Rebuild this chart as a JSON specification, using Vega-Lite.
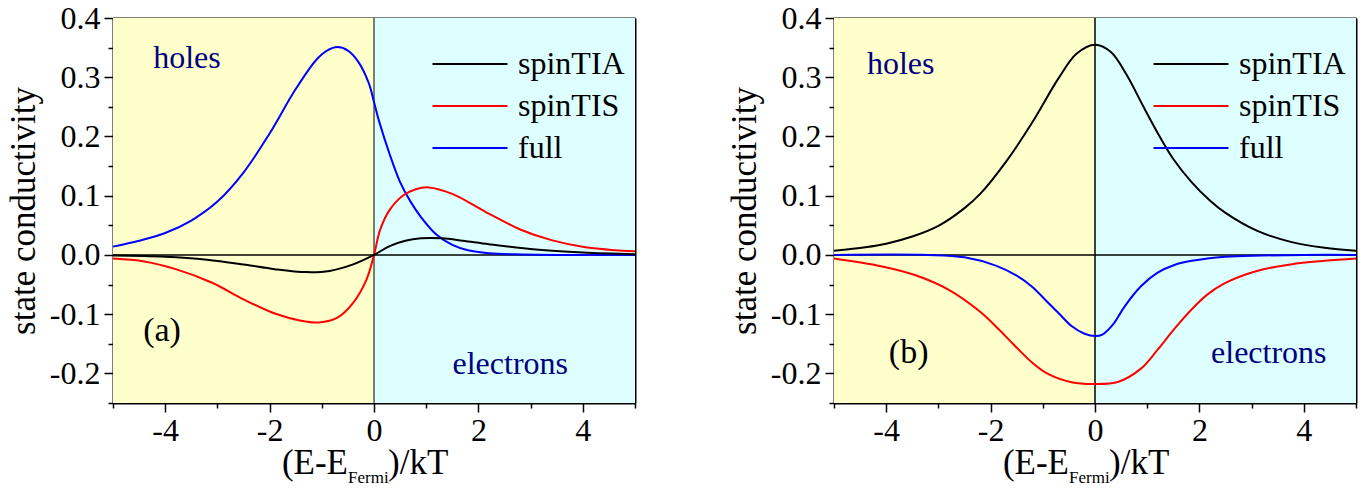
{
  "$schema": "https://vega.github.io/schema/vega-lite/v6.json",
  "background": "white",
  "padding": {"left": 6, "top": 2, "right": 5, "bottom": 5},
  "spacing": 88,
  "config": {
    "font": "Liberation Serif, Times New Roman, serif",
    "view": {"stroke": null},
    "text": {"font": "Liberation Serif, Times New Roman, serif"},
    "legend": {"labelFont": "Liberation Serif, Times New Roman, serif"},
    "axis": {"grid": false, "labelFont": "Liberation Serif, Times New Roman, serif", "titleFont": "Liberation Serif, Times New Roman, serif", "labelColor": "black", "titleColor": "black", "domainColor": "black", "tickColor": "black", "labelFontWeight": "normal", "titleFontWeight": "normal", "zindex": 1}
  },
  "datasets": {
    "regions": [
      {"region": "holes", "x0": -5, "x1": 0},
      {"region": "electrons", "x0": 0, "x1": 5}
    ],
    "curves": [
      {"panel": "a", "series": "full", "x": -5, "y": 0.014},
      {"panel": "a", "series": "full", "x": -4.5, "y": 0.024},
      {"panel": "a", "series": "full", "x": -4, "y": 0.037},
      {"panel": "a", "series": "full", "x": -3.5, "y": 0.058},
      {"panel": "a", "series": "full", "x": -3, "y": 0.09},
      {"panel": "a", "series": "full", "x": -2.5, "y": 0.139},
      {"panel": "a", "series": "full", "x": -2, "y": 0.205},
      {"panel": "a", "series": "full", "x": -1.5, "y": 0.28},
      {"panel": "a", "series": "full", "x": -1.1, "y": 0.33},
      {"panel": "a", "series": "full", "x": -0.9, "y": 0.345},
      {"panel": "a", "series": "full", "x": -0.7, "y": 0.351},
      {"panel": "a", "series": "full", "x": -0.5, "y": 0.345},
      {"panel": "a", "series": "full", "x": -0.3, "y": 0.326},
      {"panel": "a", "series": "full", "x": -0.1, "y": 0.29},
      {"panel": "a", "series": "full", "x": 0, "y": 0.258},
      {"panel": "a", "series": "full", "x": 0.1, "y": 0.225},
      {"panel": "a", "series": "full", "x": 0.3, "y": 0.17},
      {"panel": "a", "series": "full", "x": 0.5, "y": 0.123},
      {"panel": "a", "series": "full", "x": 0.7, "y": 0.09},
      {"panel": "a", "series": "full", "x": 0.9, "y": 0.064},
      {"panel": "a", "series": "full", "x": 1.2, "y": 0.034},
      {"panel": "a", "series": "full", "x": 1.5, "y": 0.017},
      {"panel": "a", "series": "full", "x": 1.8, "y": 0.008},
      {"panel": "a", "series": "full", "x": 2.2, "y": 0.003},
      {"panel": "a", "series": "full", "x": 2.7, "y": 0.001},
      {"panel": "a", "series": "full", "x": 3.5, "y": 0},
      {"panel": "a", "series": "full", "x": 5, "y": 0},
      {"panel": "a", "series": "spinTIS", "x": -5, "y": -0.006},
      {"panel": "a", "series": "spinTIS", "x": -4.4, "y": -0.011},
      {"panel": "a", "series": "spinTIS", "x": -3.8, "y": -0.024},
      {"panel": "a", "series": "spinTIS", "x": -3.1, "y": -0.047},
      {"panel": "a", "series": "spinTIS", "x": -2.5, "y": -0.075},
      {"panel": "a", "series": "spinTIS", "x": -1.9, "y": -0.099},
      {"panel": "a", "series": "spinTIS", "x": -1.4, "y": -0.111},
      {"panel": "a", "series": "spinTIS", "x": -1.05, "y": -0.114},
      {"panel": "a", "series": "spinTIS", "x": -0.7, "y": -0.106},
      {"panel": "a", "series": "spinTIS", "x": -0.4, "y": -0.081},
      {"panel": "a", "series": "spinTIS", "x": -0.15, "y": -0.043},
      {"panel": "a", "series": "spinTIS", "x": 0, "y": 0},
      {"panel": "a", "series": "spinTIS", "x": 0.12, "y": 0.043},
      {"panel": "a", "series": "spinTIS", "x": 0.3, "y": 0.076},
      {"panel": "a", "series": "spinTIS", "x": 0.55, "y": 0.1},
      {"panel": "a", "series": "spinTIS", "x": 0.8, "y": 0.111},
      {"panel": "a", "series": "spinTIS", "x": 1.05, "y": 0.114},
      {"panel": "a", "series": "spinTIS", "x": 1.5, "y": 0.103},
      {"panel": "a", "series": "spinTIS", "x": 2.15, "y": 0.072},
      {"panel": "a", "series": "spinTIS", "x": 2.8, "y": 0.043},
      {"panel": "a", "series": "spinTIS", "x": 3.4, "y": 0.025},
      {"panel": "a", "series": "spinTIS", "x": 4.05, "y": 0.013},
      {"panel": "a", "series": "spinTIS", "x": 5, "y": 0.006},
      {"panel": "a", "series": "spinTIA", "x": -5, "y": -0.001},
      {"panel": "a", "series": "spinTIA", "x": -4, "y": -0.003},
      {"panel": "a", "series": "spinTIA", "x": -3.2, "y": -0.008},
      {"panel": "a", "series": "spinTIA", "x": -2.5, "y": -0.016},
      {"panel": "a", "series": "spinTIA", "x": -1.9, "y": -0.024},
      {"panel": "a", "series": "spinTIA", "x": -1.3, "y": -0.029},
      {"panel": "a", "series": "spinTIA", "x": -0.85, "y": -0.027},
      {"panel": "a", "series": "spinTIA", "x": -0.4, "y": -0.016},
      {"panel": "a", "series": "spinTIA", "x": 0, "y": 0},
      {"panel": "a", "series": "spinTIA", "x": 0.3, "y": 0.015},
      {"panel": "a", "series": "spinTIA", "x": 0.6, "y": 0.024},
      {"panel": "a", "series": "spinTIA", "x": 0.9, "y": 0.028},
      {"panel": "a", "series": "spinTIA", "x": 1.3, "y": 0.028},
      {"panel": "a", "series": "spinTIA", "x": 1.7, "y": 0.024},
      {"panel": "a", "series": "spinTIA", "x": 2.2, "y": 0.018},
      {"panel": "a", "series": "spinTIA", "x": 3.1, "y": 0.009},
      {"panel": "a", "series": "spinTIA", "x": 4, "y": 0.004},
      {"panel": "a", "series": "spinTIA", "x": 5, "y": 0.001},
      {"panel": "b", "series": "spinTIA", "x": -5, "y": 0.007},
      {"panel": "b", "series": "spinTIA", "x": -4.4, "y": 0.013},
      {"panel": "b", "series": "spinTIA", "x": -4, "y": 0.019},
      {"panel": "b", "series": "spinTIA", "x": -3.5, "y": 0.031},
      {"panel": "b", "series": "spinTIA", "x": -3, "y": 0.049},
      {"panel": "b", "series": "spinTIA", "x": -2.5, "y": 0.079},
      {"panel": "b", "series": "spinTIA", "x": -2.2, "y": 0.103},
      {"panel": "b", "series": "spinTIA", "x": -1.7, "y": 0.158},
      {"panel": "b", "series": "spinTIA", "x": -1.2, "y": 0.224},
      {"panel": "b", "series": "spinTIA", "x": -0.7, "y": 0.298},
      {"panel": "b", "series": "spinTIA", "x": -0.35, "y": 0.34},
      {"panel": "b", "series": "spinTIA", "x": 0, "y": 0.355},
      {"panel": "b", "series": "spinTIA", "x": 0.3, "y": 0.343},
      {"panel": "b", "series": "spinTIA", "x": 0.6, "y": 0.305},
      {"panel": "b", "series": "spinTIA", "x": 0.9, "y": 0.255},
      {"panel": "b", "series": "spinTIA", "x": 1.2, "y": 0.206},
      {"panel": "b", "series": "spinTIA", "x": 1.5, "y": 0.162},
      {"panel": "b", "series": "spinTIA", "x": 1.85, "y": 0.123},
      {"panel": "b", "series": "spinTIA", "x": 2.2, "y": 0.092},
      {"panel": "b", "series": "spinTIA", "x": 2.5, "y": 0.071},
      {"panel": "b", "series": "spinTIA", "x": 3.1, "y": 0.041},
      {"panel": "b", "series": "spinTIA", "x": 3.75, "y": 0.022},
      {"panel": "b", "series": "spinTIA", "x": 4.4, "y": 0.012},
      {"panel": "b", "series": "spinTIA", "x": 5, "y": 0.007},
      {"panel": "b", "series": "full", "x": -5, "y": 0},
      {"panel": "b", "series": "full", "x": -3.2, "y": 0},
      {"panel": "b", "series": "full", "x": -2.5, "y": -0.004},
      {"panel": "b", "series": "full", "x": -1.9, "y": -0.018},
      {"panel": "b", "series": "full", "x": -1.5, "y": -0.035},
      {"panel": "b", "series": "full", "x": -1.2, "y": -0.054},
      {"panel": "b", "series": "full", "x": -0.95, "y": -0.076},
      {"panel": "b", "series": "full", "x": -0.7, "y": -0.098},
      {"panel": "b", "series": "full", "x": -0.45, "y": -0.12},
      {"panel": "b", "series": "full", "x": -0.2, "y": -0.133},
      {"panel": "b", "series": "full", "x": 0, "y": -0.137},
      {"panel": "b", "series": "full", "x": 0.15, "y": -0.134},
      {"panel": "b", "series": "full", "x": 0.35, "y": -0.117},
      {"panel": "b", "series": "full", "x": 0.56, "y": -0.088},
      {"panel": "b", "series": "full", "x": 0.88, "y": -0.053},
      {"panel": "b", "series": "full", "x": 1.2, "y": -0.03},
      {"panel": "b", "series": "full", "x": 1.52, "y": -0.017},
      {"panel": "b", "series": "full", "x": 1.85, "y": -0.01},
      {"panel": "b", "series": "full", "x": 2.5, "y": -0.003},
      {"panel": "b", "series": "full", "x": 3.2, "y": -0.001},
      {"panel": "b", "series": "full", "x": 4, "y": 0},
      {"panel": "b", "series": "full", "x": 5, "y": 0},
      {"panel": "b", "series": "spinTIS", "x": -5, "y": -0.006},
      {"panel": "b", "series": "spinTIS", "x": -4.1, "y": -0.019},
      {"panel": "b", "series": "spinTIS", "x": -3.45, "y": -0.034},
      {"panel": "b", "series": "spinTIS", "x": -2.8, "y": -0.059},
      {"panel": "b", "series": "spinTIS", "x": -2.2, "y": -0.096},
      {"panel": "b", "series": "spinTIS", "x": -1.85, "y": -0.125},
      {"panel": "b", "series": "spinTIS", "x": -1.55, "y": -0.152},
      {"panel": "b", "series": "spinTIS", "x": -1.2, "y": -0.182},
      {"panel": "b", "series": "spinTIS", "x": -0.9, "y": -0.201},
      {"panel": "b", "series": "spinTIS", "x": -0.45, "y": -0.215},
      {"panel": "b", "series": "spinTIS", "x": 0, "y": -0.218},
      {"panel": "b", "series": "spinTIS", "x": 0.45, "y": -0.214},
      {"panel": "b", "series": "spinTIS", "x": 0.88, "y": -0.192},
      {"panel": "b", "series": "spinTIS", "x": 1.2, "y": -0.16},
      {"panel": "b", "series": "spinTIS", "x": 1.52, "y": -0.125},
      {"panel": "b", "series": "spinTIS", "x": 1.84, "y": -0.093},
      {"panel": "b", "series": "spinTIS", "x": 2.15, "y": -0.067},
      {"panel": "b", "series": "spinTIS", "x": 2.48, "y": -0.048},
      {"panel": "b", "series": "spinTIS", "x": 3.1, "y": -0.027},
      {"panel": "b", "series": "spinTIS", "x": 3.75, "y": -0.016},
      {"panel": "b", "series": "spinTIS", "x": 4.4, "y": -0.01},
      {"panel": "b", "series": "spinTIS", "x": 5, "y": -0.006}
    ]
  },
  "resolve": {"scale": {"color": "independent", "fill": "independent"}},
  "hconcat": [
    {
      "width": 522,
      "height": 385,
      "resolve": {"axis": {"x": "independent", "y": "independent"}},
      "layer": [
        {
          "data": {"name": "regions"},
          "mark": {"type": "rect"},
          "encoding": {
            "x": {"field": "x0", "type": "quantitative", "scale": {"domain": [-5, 5]},
              "axis": {"orient": "bottom", "title": null, "values": [-5, -4, -3, -2, -1, 0, 1, 2, 3, 4, 5], "labelExpr": "datum.value % 2 === 0 ? '' + datum.value : ''", "labelFontSize": 32, "labelPadding": 3, "labelFlush": false, "labelOverlap": false, "domainWidth": 2, "tickWidth": 1.5, "tickSize": {"condition": {"test": "datum.value % 2 === 0", "value": 9}, "value": 5}}},
            "x2": {"field": "x1"},
            "y": {"datum": -0.25, "type": "quantitative", "scale": {"domain": [-0.25, 0.4]},
              "axis": {"orient": "left", "title": "state conductivity", "titleFontSize": 35, "titlePadding": 8, "values": [-0.25, -0.2, -0.15, -0.1, -0.05, 0, 0.05, 0.1, 0.15, 0.2, 0.25, 0.3, 0.35, 0.4], "labelExpr": "abs(round(datum.value*20)) % 2 === 0 ? (datum.value < -0.001 ? '-' : '') + format(abs(datum.value), '.1f') : ''", "labelFontSize": 32, "labelPadding": 4, "labelFlush": false, "labelOverlap": false, "domainWidth": 2, "tickWidth": 1.5, "tickSize": {"condition": {"test": "abs(round(datum.value*20)) % 2 === 0", "value": 9}, "value": 5}}},
            "y2": {"datum": 0.4},
            "fill": {"field": "region", "type": "nominal", "scale": {"domain": ["holes", "electrons"], "range": ["#FFFFCC", "#DDFFFF"]}, "legend": null}
          }
        },
        {
          "data": {"values": [{}]},
          "mark": {"type": "rule", "color": "black", "strokeWidth": 1.5},
          "encoding": {"y": {"datum": 0, "type": "quantitative", "axis": {"orient": "right", "title": null, "labels": false, "ticks": false, "domain": true, "domainWidth": 2}}}
        },
        {
          "data": {"values": [{}]},
          "mark": {"type": "rule", "color": "black", "strokeWidth": 1},
          "encoding": {"x": {"datum": 0, "type": "quantitative", "axis": {"orient": "top", "title": null, "labels": false, "ticks": false, "domain": true, "domainWidth": 2}}}
        },
        {
          "data": {"name": "curves"},
          "transform": [{"filter": "datum.panel === 'a'"}],
          "mark": {"type": "line", "strokeWidth": 2, "interpolate": "catmull-rom"},
          "encoding": {
            "x": {"field": "x", "type": "quantitative", "axis": null},
            "y": {"field": "y", "type": "quantitative", "axis": null},
            "color": {"field": "series", "type": "nominal", "scale": {"domain": ["spinTIA", "spinTIS", "full"], "range": ["#000000", "#FF0000", "#0000FF"]},
              "legend": {"title": null, "orient": "none", "legendX": 341, "legendY": 30, "symbolType": "M-5,0H5", "symbolSize": 225, "symbolStrokeWidth": 2, "labelFontSize": 32, "labelFont": "Liberation Serif, Times New Roman, serif", "labelColor": "black", "labelOffset": 32, "rowPadding": 10, "padding": 0}}
          }
        },
        {
          "data": {"values": [{}]},
          "mark": {"type": "text", "text": "holes", "align": "left", "baseline": "alphabetic", "fontSize": 32, "font": "Liberation Serif, Times New Roman, serif", "color": "#000080"},
          "encoding": {"x": {"datum": -4.23, "type": "quantitative", "axis": null}, "y": {"datum": 0.316, "type": "quantitative", "axis": null}}
        },
        {
          "data": {"values": [{}]},
          "mark": {"type": "text", "text": "electrons", "align": "center", "baseline": "alphabetic", "fontSize": 32, "font": "Liberation Serif, Times New Roman, serif", "color": "#000080"},
          "encoding": {"x": {"datum": 2.61, "type": "quantitative", "axis": null}, "y": {"datum": -0.201, "type": "quantitative", "axis": null}}
        },
        {
          "data": {"values": [{}]},
          "mark": {"type": "text", "text": "(a)", "align": "center", "baseline": "alphabetic", "fontSize": 34, "font": "Liberation Serif, Times New Roman, serif", "color": "black"},
          "encoding": {"x": {"datum": -4.06, "type": "quantitative", "axis": null}, "y": {"datum": -0.145, "type": "quantitative", "axis": null}}
        },
        {
          "data": {"values": [{}]},
          "mark": {"type": "text", "text": "(E-E", "align": "right", "baseline": "alphabetic", "fontSize": 35, "font": "Liberation Serif, Times New Roman, serif", "dx": -26, "dy": 71, "color": "black"},
          "encoding": {"x": {"datum": 0, "type": "quantitative", "axis": null}, "y": {"datum": -0.25, "type": "quantitative", "axis": null}}
        },
        {
          "data": {"values": [{}]},
          "mark": {"type": "text", "text": "Fermi", "align": "left", "baseline": "alphabetic", "fontSize": 17, "font": "Liberation Serif, Times New Roman, serif", "dx": -26, "dy": 80, "color": "black"},
          "encoding": {"x": {"datum": 0, "type": "quantitative", "axis": null}, "y": {"datum": -0.25, "type": "quantitative", "axis": null}}
        },
        {
          "data": {"values": [{}]},
          "mark": {"type": "text", "text": ")/kT", "align": "left", "baseline": "alphabetic", "fontSize": 35, "font": "Liberation Serif, Times New Roman, serif", "dx": 14, "dy": 71, "color": "black"},
          "encoding": {"x": {"datum": 0, "type": "quantitative", "axis": null}, "y": {"datum": -0.25, "type": "quantitative", "axis": null}}
        }
      ]
    },
    {
      "width": 522,
      "height": 385,
      "resolve": {"axis": {"x": "independent", "y": "independent"}},
      "layer": [
        {
          "data": {"name": "regions"},
          "mark": {"type": "rect"},
          "encoding": {
            "x": {"field": "x0", "type": "quantitative", "scale": {"domain": [-5, 5]},
              "axis": {"orient": "bottom", "title": null, "values": [-5, -4, -3, -2, -1, 0, 1, 2, 3, 4, 5], "labelExpr": "datum.value % 2 === 0 ? '' + datum.value : ''", "labelFontSize": 32, "labelPadding": 3, "labelFlush": false, "labelOverlap": false, "domainWidth": 2, "tickWidth": 1.5, "tickSize": {"condition": {"test": "datum.value % 2 === 0", "value": 9}, "value": 5}}},
            "x2": {"field": "x1"},
            "y": {"datum": -0.25, "type": "quantitative", "scale": {"domain": [-0.25, 0.4]},
              "axis": {"orient": "left", "title": "state conductivity", "titleFontSize": 35, "titlePadding": 8, "values": [-0.25, -0.2, -0.15, -0.1, -0.05, 0, 0.05, 0.1, 0.15, 0.2, 0.25, 0.3, 0.35, 0.4], "labelExpr": "abs(round(datum.value*20)) % 2 === 0 ? (datum.value < -0.001 ? '-' : '') + format(abs(datum.value), '.1f') : ''", "labelFontSize": 32, "labelPadding": 4, "labelFlush": false, "labelOverlap": false, "domainWidth": 2, "tickWidth": 1.5, "tickSize": {"condition": {"test": "abs(round(datum.value*20)) % 2 === 0", "value": 9}, "value": 5}}},
            "y2": {"datum": 0.4},
            "fill": {"field": "region", "type": "nominal", "scale": {"domain": ["holes", "electrons"], "range": ["#FFFFCC", "#DDFFFF"]}, "legend": null}
          }
        },
        {
          "data": {"values": [{}]},
          "mark": {"type": "rule", "color": "black", "strokeWidth": 1.5},
          "encoding": {"y": {"datum": 0, "type": "quantitative", "axis": {"orient": "right", "title": null, "labels": false, "ticks": false, "domain": true, "domainWidth": 2}}}
        },
        {
          "data": {"values": [{}]},
          "mark": {"type": "rule", "color": "black", "strokeWidth": 1.5},
          "encoding": {"x": {"datum": 0, "type": "quantitative", "axis": {"orient": "top", "title": null, "labels": false, "ticks": false, "domain": true, "domainWidth": 2}}}
        },
        {
          "data": {"name": "curves"},
          "transform": [{"filter": "datum.panel === 'b'"}],
          "mark": {"type": "line", "strokeWidth": 2, "interpolate": "catmull-rom"},
          "encoding": {
            "x": {"field": "x", "type": "quantitative", "axis": null},
            "y": {"field": "y", "type": "quantitative", "axis": null},
            "color": {"field": "series", "type": "nominal", "scale": {"domain": ["spinTIA", "spinTIS", "full"], "range": ["#000000", "#FF0000", "#0000FF"]},
              "legend": {"title": null, "orient": "none", "legendX": 341, "legendY": 30, "symbolType": "M-5,0H5", "symbolSize": 225, "symbolStrokeWidth": 2, "labelFontSize": 32, "labelFont": "Liberation Serif, Times New Roman, serif", "labelColor": "black", "labelOffset": 32, "rowPadding": 10, "padding": 0}}
          }
        },
        {
          "data": {"values": [{}]},
          "mark": {"type": "text", "text": "holes", "align": "left", "baseline": "alphabetic", "fontSize": 32, "font": "Liberation Serif, Times New Roman, serif", "color": "#000080"},
          "encoding": {"x": {"datum": -4.37, "type": "quantitative", "axis": null}, "y": {"datum": 0.305, "type": "quantitative", "axis": null}}
        },
        {
          "data": {"values": [{}]},
          "mark": {"type": "text", "text": "electrons", "align": "center", "baseline": "alphabetic", "fontSize": 32, "font": "Liberation Serif, Times New Roman, serif", "color": "#000080"},
          "encoding": {"x": {"datum": 3.33, "type": "quantitative", "axis": null}, "y": {"datum": -0.182, "type": "quantitative", "axis": null}}
        },
        {
          "data": {"values": [{}]},
          "mark": {"type": "text", "text": "(b)", "align": "center", "baseline": "alphabetic", "fontSize": 34, "font": "Liberation Serif, Times New Roman, serif", "color": "black"},
          "encoding": {"x": {"datum": -3.57, "type": "quantitative", "axis": null}, "y": {"datum": -0.182, "type": "quantitative", "axis": null}}
        },
        {
          "data": {"values": [{}]},
          "mark": {"type": "text", "text": "(E-E", "align": "right", "baseline": "alphabetic", "fontSize": 35, "font": "Liberation Serif, Times New Roman, serif", "dx": -26, "dy": 71, "color": "black"},
          "encoding": {"x": {"datum": 0, "type": "quantitative", "axis": null}, "y": {"datum": -0.25, "type": "quantitative", "axis": null}}
        },
        {
          "data": {"values": [{}]},
          "mark": {"type": "text", "text": "Fermi", "align": "left", "baseline": "alphabetic", "fontSize": 17, "font": "Liberation Serif, Times New Roman, serif", "dx": -26, "dy": 80, "color": "black"},
          "encoding": {"x": {"datum": 0, "type": "quantitative", "axis": null}, "y": {"datum": -0.25, "type": "quantitative", "axis": null}}
        },
        {
          "data": {"values": [{}]},
          "mark": {"type": "text", "text": ")/kT", "align": "left", "baseline": "alphabetic", "fontSize": 35, "font": "Liberation Serif, Times New Roman, serif", "dx": 14, "dy": 71, "color": "black"},
          "encoding": {"x": {"datum": 0, "type": "quantitative", "axis": null}, "y": {"datum": -0.25, "type": "quantitative", "axis": null}}
        }
      ]
    }
  ]
}
